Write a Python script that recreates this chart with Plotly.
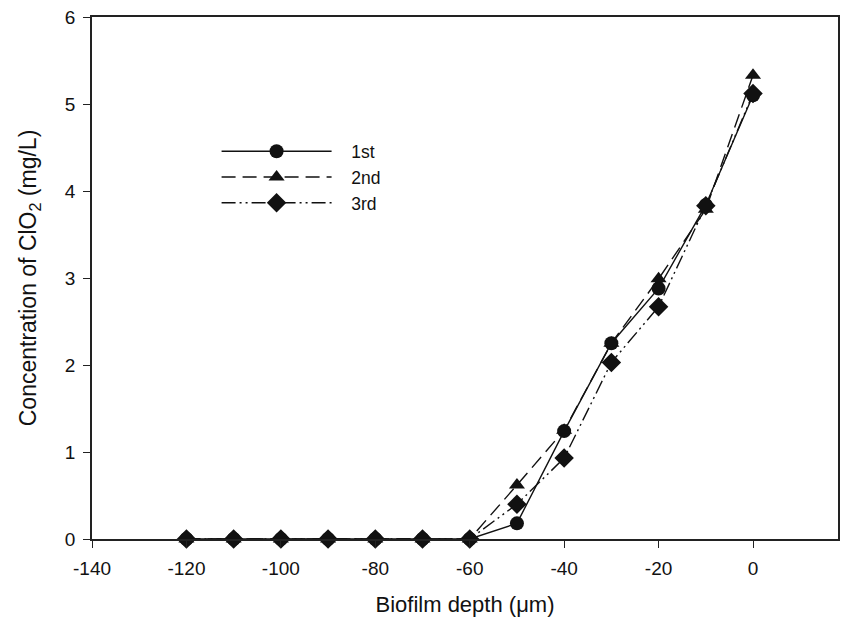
import plotly.graph_objects as go

# Depth into the biofilm (µm) and ClO2 concentration profiles for three runs
depth = [-120, -110, -100, -90, -80, -70, -60, -50, -40, -30, -20, -10, 0]
run_1st = [0, 0, 0, 0, 0, 0, 0, 0.18, 1.24, 2.25, 2.88, 3.84, 5.10]
run_2nd = [0, 0, 0, 0, 0, 0, 0, 0.62, 1.25, 2.25, 2.99, 3.79, 5.33]
run_3rd = [0, 0, 0, 0, 0, 0, 0, 0.40, 0.93, 2.03, 2.67, 3.83, 5.12]

x_ticks = [-140, -120, -100, -80, -60, -40, -20, 0]
x_tick_text = ["-140", "-120", "-100", "-80", "-60", "-40", "-20", "0"]
y_ticks = [0, 1, 2, 3, 4, 5, 6]

FONT = "Liberation Sans, Arial, sans-serif"
INK = "#111111"
PAD = "\u00a0\u00a0\u00a0"  # spacing between legend line sample and label

series = [
    ("1st", run_1st, "solid", "circle", 14),
    ("2nd", run_2nd, "14px,7px", "triangle-up", 14),
    ("3rd", run_3rd, "14px,4px,2px,4px,2px,4px", "diamond", 15),
]

fig = go.Figure()
for name, vals, dash, symbol, size in series:
    fig.add_trace(go.Scatter(
        x=depth, y=vals, name=PAD + name, mode="lines+markers",
        line=dict(color=INK, width=1.4, dash=dash),
        marker=dict(symbol=symbol, size=size, color=INK, line=dict(width=0)),
        cliponaxis=False,
    ))

axis_common = dict(
    showgrid=False, zeroline=False, showline=True, linecolor="#222222",
    linewidth=1.5, mirror=True, ticks="outside", ticklen=7, tickwidth=1.2,
    tickcolor="#222222", tickfont=dict(family=FONT, size=19, color=INK),
)

fig.update_layout(
    width=844, height=631,
    margin=dict(l=92, r=4, t=17, b=92),
    paper_bgcolor="white", plot_bgcolor="white",
    font=dict(family=FONT, color=INK),
    xaxis=dict(
        range=[-140, 18], tickvals=x_ticks, ticktext=x_tick_text,
        ticklabelstandoff=4,
        title=dict(text="Biofilm depth (μm)", font=dict(family=FONT, size=22, color=INK), standoff=19),
        **axis_common,
    ),
    yaxis=dict(
        range=[0, 6], tickvals=y_ticks, ticklabelstandoff=4,
        title=dict(text="Concentration of ClO<sub>2</sub> (mg/L)", font=dict(family=FONT, size=23, color=INK), standoff=22),
        **axis_common,
    ),
    legend=dict(
        x=0.167, y=0.777, xanchor="left", yanchor="top",
        bgcolor="rgba(0,0,0,0)", font=dict(family=FONT, size=17.5, color=INK),
        itemwidth=110, tracegroupgap=0,
    ),
    showlegend=True,
)

fig.write_html("out.html")
